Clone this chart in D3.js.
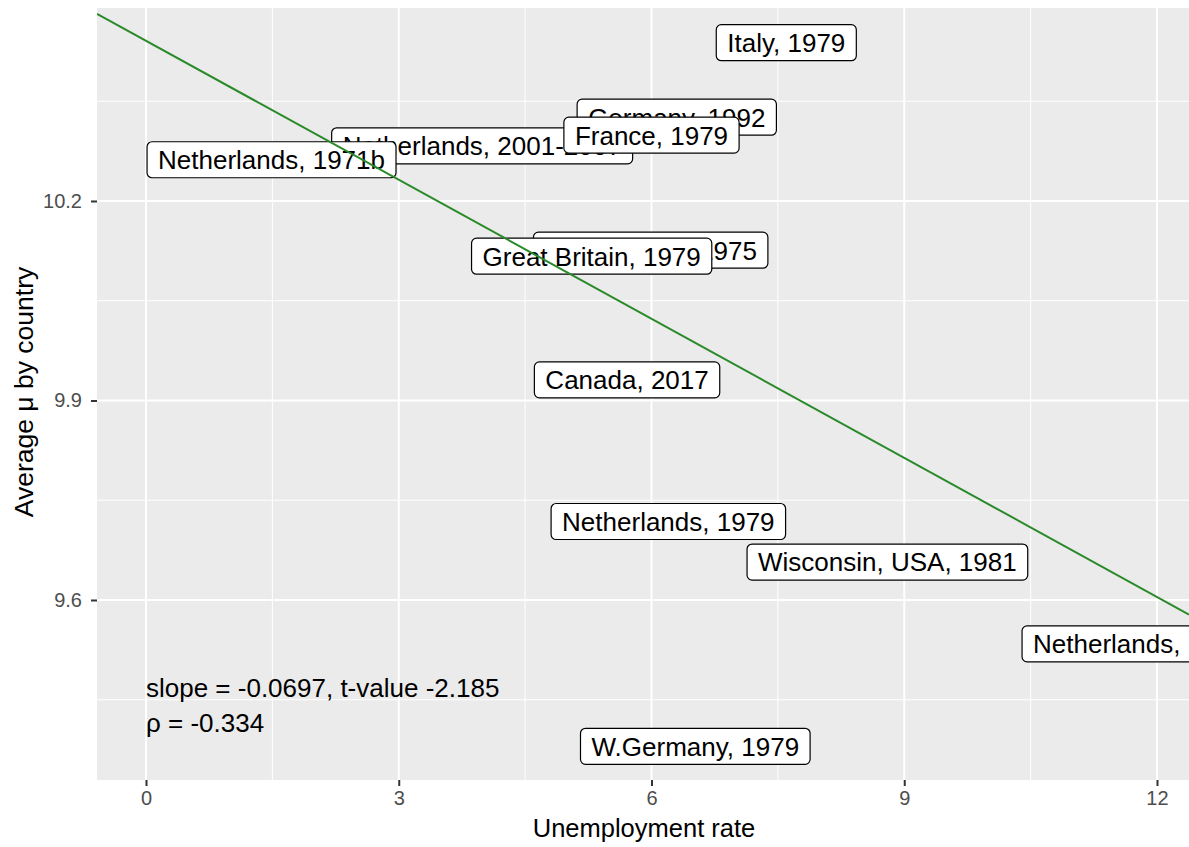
<!DOCTYPE html>
<html><head><meta charset="utf-8">
<script src="https://cdn.jsdelivr.net/npm/d3@7"></script>
<style>body{margin:0;background:#fff}svg{display:block}</style>
</head><body>
<script>
// Data
const labels = ["Italy, 1979","Germany, 1992","Netherlands, 2001-2007","France, 1979","Netherlands, 1971b","Netherlands, 1975","Great Britain, 1979","Canada, 2017","Netherlands, 1979","Wisconsin, USA, 1981","Netherlands, 1985","W.Germany, 1979"];
const unemployment = [7.60, 6.30, 3.99, 6.00, 1.49, 5.99, 5.29, 5.71, 6.20, 8.80, 11.79, 6.52];
const avgMu = [10.438, 10.326, 10.283, 10.299, 10.262, 10.126, 10.117, 9.931, 9.718, 9.657, 9.534, 9.380];
const xTicks = [0, 3, 6, 9, 12];
const yTicks = [9.6, 9.9, 10.2];
const xMinor = [1.5, 4.5, 7.5, 10.5];
const yMinor = [9.45, 9.75, 10.05, 10.35];
const fitIntercept = 10.441, fitSlope = -0.0697;
const annotation = ["slope = -0.0697, t-value -2.185", "ρ = -0.334"];

const W = 1189, H = 847;
const P = {l: 97, t: 8, r: 1189, b: 780};
const font = "'Liberation Sans', Arial, Helvetica, sans-serif";

const x = d3.scaleLinear().domain([-0.5816, 12.38]).range([P.l, P.r]);
const y = d3.scaleLinear().domain([9.3293, 10.4902]).range([P.b, P.t]);

const svg = d3.select("body").append("svg").attr("width", W).attr("height", H)
  .style("font-family", font);

svg.append("defs").append("clipPath").attr("id","clip")
  .append("rect").attr("x",P.l).attr("y",P.t).attr("width",P.r-P.l).attr("height",P.b-P.t);

svg.append("rect").attr("x",P.l).attr("y",P.t).attr("width",P.r-P.l).attr("height",P.b-P.t).attr("fill","#ebebeb");

const grid = svg.append("g").attr("clip-path","url(#clip)");
grid.selectAll(".vm").data(xMinor).join("line").attr("x1",d=>x(d)).attr("x2",d=>x(d)).attr("y1",P.t).attr("y2",P.b).attr("stroke","#fff").attr("stroke-width",1);
grid.selectAll(".hm").data(yMinor).join("line").attr("y1",d=>y(d)).attr("y2",d=>y(d)).attr("x1",P.l).attr("x2",P.r).attr("stroke","#fff").attr("stroke-width",1);
grid.selectAll(".vM").data(xTicks).join("line").attr("x1",d=>x(d)).attr("x2",d=>x(d)).attr("y1",P.t).attr("y2",P.b).attr("stroke","#fff").attr("stroke-width",2);
grid.selectAll(".hM").data(yTicks).join("line").attr("y1",d=>y(d)).attr("y2",d=>y(d)).attr("x1",P.l).attr("x2",P.r).attr("stroke","#fff").attr("stroke-width",2);

// axes
const xAxis = svg.append("g").attr("transform",`translate(0,${P.b})`)
  .call(d3.axisBottom(x).tickValues(xTicks).tickSize(6).tickPadding(5).tickFormat(d3.format("d")));
const yAxis = svg.append("g").attr("transform",`translate(${P.l},0)`)
  .call(d3.axisLeft(y).tickValues(yTicks).tickSize(6).tickPadding(9).tickFormat(d3.format(".1f")));
[xAxis,yAxis].forEach(a=>{
  a.select(".domain").remove();
  a.selectAll(".tick line").attr("stroke","#333").attr("stroke-width",2);
  a.selectAll(".tick text").attr("fill","#4d4d4d").style("font-size","20px").style("font-family",font);
});

// axis titles
svg.append("text").attr("x",644).attr("y",837).attr("text-anchor","middle")
  .style("font-size","25.5px").attr("fill","#000").text("Unemployment rate");
svg.append("text").attr("transform",`translate(33,${(P.t+P.b)/2 - 2}) rotate(-90)`).attr("text-anchor","middle")
  .style("font-size","26.5px").attr("fill","#000").text("Average μ by country");

// labels
const lg = svg.append("g").attr("clip-path","url(#clip)");
labels.forEach((lab,i)=>{
  const g = lg.append("g");
  const cx = x(unemployment[i]), cy = y(avgMu[i]);
  const rect = g.append("rect");
  const t = g.append("text").attr("x",cx).attr("y",cy).attr("text-anchor","middle").attr("dy","0.36em")
    .style("font-size","26px").attr("fill","#000").text(lab);
  const w = t.node().getComputedTextLength();
  const h = 36;
  rect.attr("x",cx-w/2-11).attr("y",cy-h/2).attr("width",w+22).attr("height",h)
    .attr("rx",5).attr("fill","#fff").attr("stroke","#000").attr("stroke-width",1.2);
});

// regression line
const xd = x.domain();
svg.append("g").attr("clip-path","url(#clip)").append("line")
  .attr("x1",x(xd[0])).attr("y1",y(fitIntercept+fitSlope*xd[0]))
  .attr("x2",x(xd[1])).attr("y2",y(fitIntercept+fitSlope*xd[1]))
  .attr("stroke","#2a8a2a").attr("stroke-width",2);

// annotation
svg.append("text").attr("x",x(0)).attr("y",697).style("font-size","26px").attr("fill","#000").text(annotation[0]);
svg.append("text").attr("x",x(0)).attr("y",732).style("font-size","26px").attr("fill","#000").text(annotation[1]);
</script>
</body></html>
